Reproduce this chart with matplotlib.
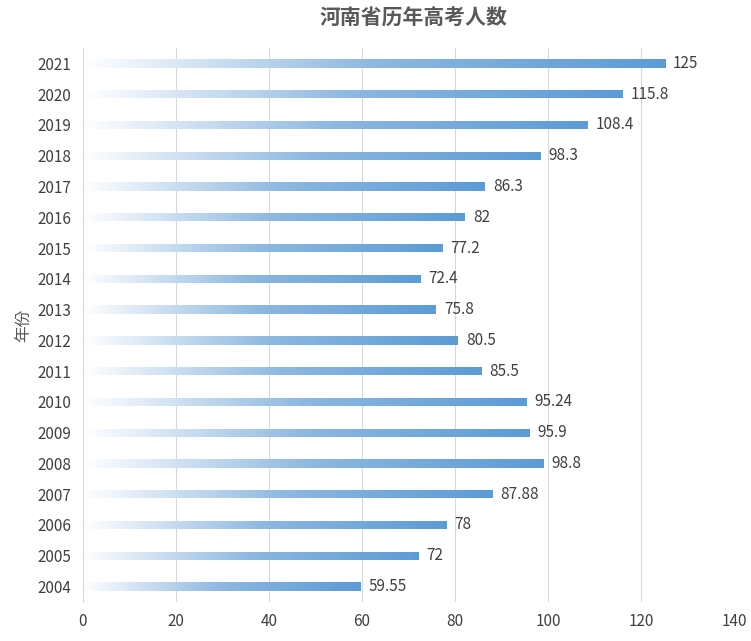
import numpy as np
import matplotlib.pyplot as plt
from matplotlib import font_manager
from matplotlib.colors import LinearSegmentedColormap

cjk = [f.name for f in font_manager.fontManager.ttflist if 'CJK' in f.name]
plt.rcParams['font.family'] = (['Noto Sans CJK SC'] if 'Noto Sans CJK SC' in cjk else cjk[:1]) + ['DejaVu Sans']

years = ['2004', '2005', '2006', '2007', '2008', '2009', '2010', '2011', '2012',
         '2013', '2014', '2015', '2016', '2017', '2018', '2019', '2020', '2021']
values = [59.55, 72, 78, 87.88, 98.8, 95.9, 95.24, 85.5, 80.5,
          75.8, 72.4, 77.2, 82, 86.3, 98.3, 108.4, 115.8, 125]
labels = ['59.55', '72', '78', '87.88', '98.8', '95.9', '95.24', '85.5', '80.5',
          '75.8', '72.4', '77.2', '82', '86.3', '98.3', '108.4', '115.8', '125']

fig = plt.figure(figsize=(7.51, 6.41), dpi=100)
ax = fig.add_axes([0.11, 0.061, 0.868, 0.864])

cmap = LinearSegmentedColormap.from_list(
    'grad', [(1, 1, 1, 1), (0.55, 0.72, 0.88, 1), (0.36, 0.61, 0.84, 1)])
grad = np.linspace(0, 1, 256).reshape(1, -1)
h = 0.27
pos = np.arange(len(years))
bars = ax.barh(pos, values, height=h, color='none', zorder=2)
for b, v, y in zip(bars, values, pos):
    im = ax.imshow(grad, cmap=cmap, aspect='auto', extent=[0, v, y - h / 2, y + h / 2], zorder=2)
    im.set_clip_path(b)
for v, y, t in zip(values, pos, labels):
    ax.text(v + 1.8, y, t, va='center', ha='left', fontsize=11, color='#404040')

ax.set_xlim(0, 140)
ax.set_ylim(-0.5, len(years) - 0.5)
ax.set_xticks(range(0, 141, 20))
ax.set_yticks(pos)
ax.set_yticklabels(years)
ax.tick_params(length=0, labelsize=11, colors='#404040', pad=8)
ax.grid(axis='x', color='#d9d9d9', lw=0.8, zorder=0)
for s in ['top', 'right', 'bottom']:
    ax.spines[s].set_visible(False)
ax.spines['left'].set_color('#d9d9d9')
ax.set_ylabel('年份', fontsize=12, color='#595959', labelpad=4)
fig.text(0.55, 0.972, '河南省历年高考人数', ha='center', va='center',
         fontsize=15, fontweight='bold', color='#595959')
fig.savefig('out.png')
